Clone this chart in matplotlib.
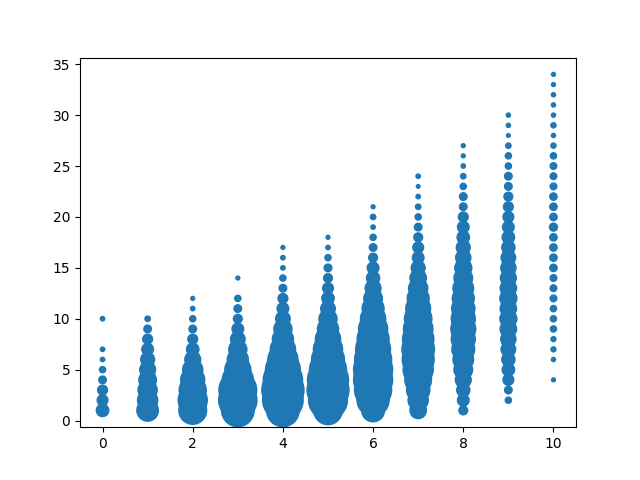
import numpy as np
import matplotlib
matplotlib.use("Agg")
import matplotlib.pyplot as plt

# y values and counts for each x column (0..10)
ys_0 = [1, 2, 3, 4, 5, 6, 7, 10]
counts_0 = [8, 6, 5, 3, 2, 1, 1, 1]

ys_1 = list(range(1, 11))
counts_1 = [24, 21, 19, 16, 13, 10, 7, 5, 3, 1.5]

ys_2 = list(range(1, 13))
counts_2 = [40, 44, 38, 30, 21, 13, 8, 5, 3, 2, 1, 0.8]

ys_3 = list(range(1, 13)) + [14]
counts_3 = [55, 76, 74, 50, 35, 23, 17, 11, 7, 4, 3, 2, 0.8]

ys_4 = list(range(1, 18))
counts_4 = [55, 85, 92, 80, 63, 47, 33, 23, 17, 11, 7, 5, 3, 2, 1, 1, 0.8]

ys_5 = list(range(1, 19))
counts_5 = [42, 78, 91, 87, 71, 56, 44, 33, 23, 17, 11, 8, 6, 4, 3, 2, 1, 0.8]

ys_6 = list(range(1, 22))
counts_6 = [27, 53, 71, 79, 79, 71, 63, 53, 44, 33, 25, 18, 13, 9, 7, 4, 3, 2, 1, 1.5, 0.8]

ys_7 = list(range(1, 25))
counts_7 = [14, 21, 28, 37, 47, 53, 55, 51, 45, 39, 32, 25, 19, 14, 10, 7, 6, 4, 3, 2, 1.5, 1, 0.7, 1]

ys_8 = list(range(1, 28))
counts_8 = [4, 7, 9, 13, 18, 22, 27, 30, 32, 30, 28, 25, 22, 18, 15, 12, 10, 8, 7, 5, 3, 3, 2, 1.5, 1, 0.8, 0.8]

ys_9 = list(range(2, 31))
counts_9 = [2, 3, 6, 8, 9, 11, 12, 14, 15, 14, 15, 14, 13, 12, 11, 9, 8, 7, 6, 5, 4, 3, 3, 2, 2, 1.5, 0.7, 0.9, 0.9]

ys_10 = [4] + list(range(6, 35))
counts_10 = [0.8, 0.9, 1.3, 1.3, 2, 2, 2, 2.3, 2.3, 2.3, 2.8, 2.8, 2.8, 2.8, 3.3, 2.8, 2.8, 2.8,
             2.3, 2.3, 2.3, 2, 1.4, 0.9, 1.4, 0.9, 0.9, 0.9, 0.8, 0.8]

columns = [(ys_0, counts_0), (ys_1, counts_1), (ys_2, counts_2), (ys_3, counts_3),
           (ys_4, counts_4), (ys_5, counts_5), (ys_6, counts_6), (ys_7, counts_7),
           (ys_8, counts_8), (ys_9, counts_9), (ys_10, counts_10)]

x, y, c = [], [], []
for i, (ys, cs) in enumerate(columns):
    x += [i] * len(ys)
    y += ys
    c += cs
c = np.array(c)

fig, ax = plt.subplots(figsize=(6.4, 4.8), dpi=100)
ax.scatter(x, y, s=c * 10)

plt.savefig("out.png")
